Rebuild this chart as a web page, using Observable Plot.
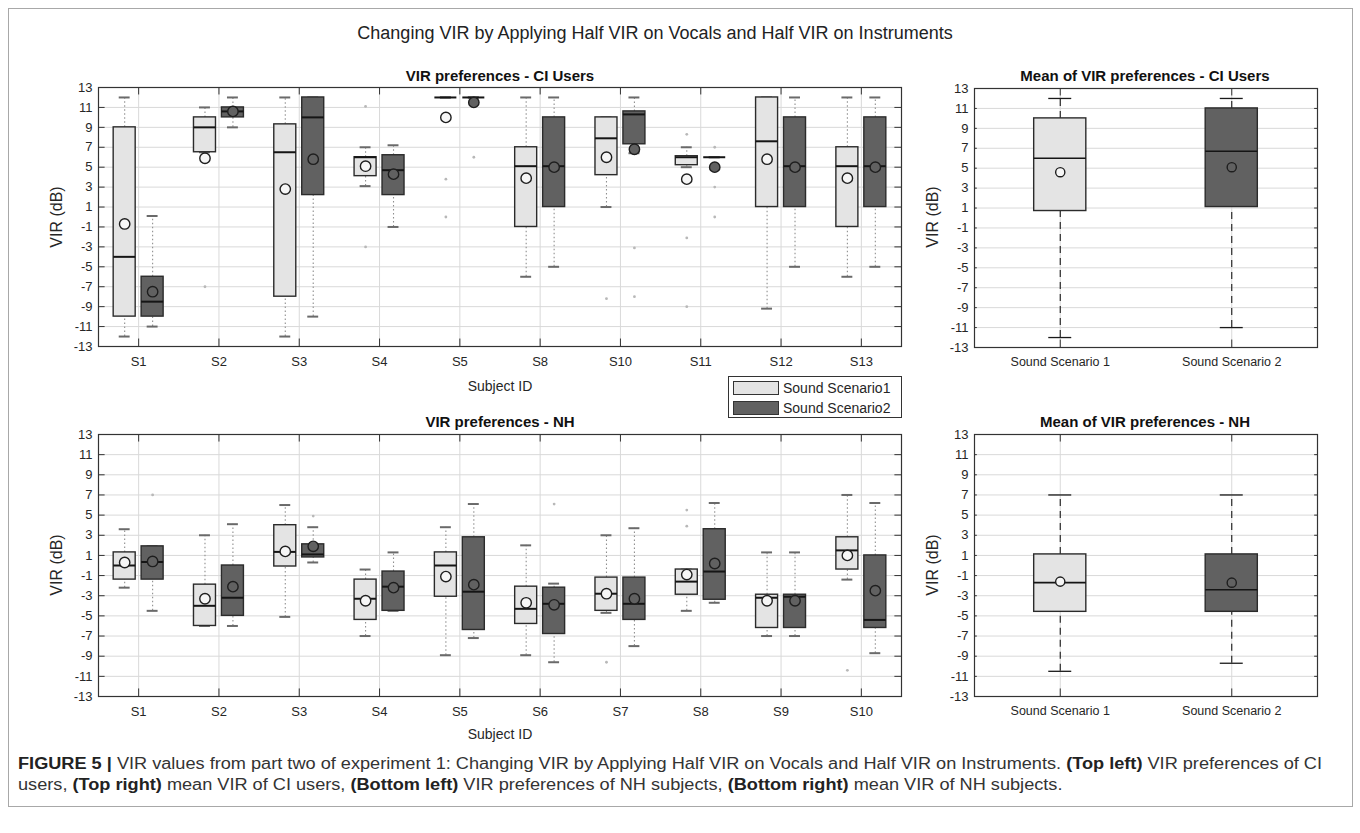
<!DOCTYPE html>
<html><head><meta charset="utf-8">
<script src="https://cdn.jsdelivr.net/npm/d3@7"></script>
<script src="https://cdn.jsdelivr.net/npm/@observablehq/plot@0.6"></script>
<style>
body{margin:0;background:#fff;}
#fig{position:relative;width:1360px;height:833px;font-family:"Liberation Sans",Arial,Helvetica,sans-serif;color:#262626;overflow:hidden;background:#fff;}
.abs{position:absolute;white-space:nowrap;}
.c{transform:translate(-50%,-50%);}
.pl{position:absolute;}
.ttl{font-weight:bold;font-size:15px;color:#111;}
.yl{font-size:16px;transform:translate(-50%,-50%) rotate(-90deg);}
.cap{font-family:"Liberation Sans",Arial,sans-serif;font-size:16px;color:#333;}
.cap b{color:#222;}
</style></head><body><div id="fig"></div>
<script>
// ---------- data ----------
const yTicks = [-13,-11,-9,-7,-5,-3,-1,1,3,5,7,9,11,13];

const ciSubjects = ["S1","S2","S3","S4","S5","S8","S10","S11","S12","S13"];
const ci1Low  = [-12, 6.5, -12, 3.1, 12, -6, 1, 5, -9.2, -6];
const ci1Q1   = [-10, 6.5, -8, 4.1, 12, -1, 4.2, 5.2, 1, -1];
const ci1Med  = [-4, 9, 6.5, 6, 12, 5.1, 7.9, 6, 7.6, 5.1];
const ci1Q3   = [9, 10, 9.3, 6, 12, 7, 10, 6.1, 12, 7];
const ci1High = [12, 11, 12, 7, 12, 12, 10, 7, 12, 12];
const ci1Mean = [-0.7, 5.9, 2.8, 5.1, 10, 3.9, 6, 3.8, 5.8, 3.9];
const ci2Low  = [-11, 9, -10, -1, 12, -5, 6.4, 6, -5, -5];
const ci2Q1   = [-10, 10, 2.2, 2.2, 12, 1, 7.3, 6, 1, 1];
const ci2Med  = [-8.5, 10.6, 10, 4.7, 12, 5.1, 10.3, 6, 5.1, 5.1];
const ci2Q3   = [-6, 11, 12, 6.2, 12, 10, 10.6, 6, 10, 10];
const ci2High = [0.1, 12, 12, 7.2, 12, 12, 12, 6, 12, 12];
const ci2Mean = [-7.5, 10.6, 5.8, 4.3, 11.5, 5, 6.8, 5, 5, 5];
const ciOutSubject  = ["S2","S4","S4","S5","S5","S5","S10","S10","S10","S11","S11","S11","S11","S11","S11"];
const ciOutScenario = [1, 1, 1, 1, 1, 2, 1, 2, 2, 1, 1, 1, 2, 2, 2];
const ciOutValue    = [-7, 11.1, -3, 3.8, 0, 6, -8.2, -3.1, -8, 8.3, -2.1, -9, 7, 3, 0];

const nhSubjects = ["S1","S2","S3","S4","S5","S6","S7","S8","S9","S10"];
const nh1Low  = [-2.2, -6, -5.1, -7, -8.9, -8.9, -4.7, -4.5, -7, -1.4];
const nh1Q1   = [-1.4, -6, -0.1, -5.4, -3.1, -5.8, -4.5, -2.9, -6.2, -0.4];
const nh1Med  = [0, -4, 1.35, -3.3, 0, -4.3, -2.8, -1.6, -3.2, 1.5];
const nh1Q3   = [1.3, -1.9, 4, -1.4, 1.3, -2.1, -1.2, -0.4, -2.9, 2.8];
const nh1High = [3.6, 3, 6, -0.4, 3.8, 2, 3, -0.4, 1.3, 7];
const nh1Mean = [0.3, -3.3, 1.4, -3.5, -1.1, -3.7, -2.8, -0.9, -3.5, 1];
const nh2Low  = [-4.5, -6, 0.3, -4.5, -7.2, -9.6, -8, -3.7, -7, -8.7];
const nh2Q1   = [-1.4, -5, 0.8, -4.5, -6.4, -6.8, -5.4, -3.4, -6.2, -6.2];
const nh2Med  = [0.35, -3.2, 1.1, -2.1, -2.6, -3.8, -3.8, -0.6, -3.1, -5.4];
const nh2Q3   = [1.9, 0, 2.1, -0.6, 2.8, -2.2, -1.2, 3.6, -2.9, 1];
const nh2High = [1.9, 4.1, 3.8, 1.3, 6.1, -1.8, 3.7, 6.2, 1.3, 6.2];
const nh2Mean = [0.4, -2.1, 1.9, -2.2, -1.9, -3.9, -3.3, 0.2, -3.5, -2.5];
const nhOutSubject  = ["S1","S3","S6","S7","S8","S8","S10"];
const nhOutScenario = [2, 2, 2, 1, 1, 1, 1];
const nhOutValue    = [7, 4.9, 6.1, -9.6, 5.5, 3.9, -10.4];

const scenarios = ["Sound Scenario 1","Sound Scenario 2"];
const ciMeanLow  = [-12, -11];
const ciMeanQ1   = [0.7, 1.1];
const ciMeanMed  = [6, 6.7];
const ciMeanQ3   = [10, 11];
const ciMeanHigh = [12, 12];
const ciMeanMean = [4.6, 5.1];
const nhMeanLow  = [-10.5, -9.7];
const nhMeanQ1   = [-4.6, -4.6];
const nhMeanMed  = [-1.7, -2.4];
const nhMeanQ3   = [1.1, 1.1];
const nhMeanHigh = [7, 7];
const nhMeanMean = [-1.6, -1.7];

const legendLabels = ["Sound Scenario1","Sound Scenario2"];

// ---------- styles ----------
const LIGHT = "#e4e4e4", DARK = "#616161";

function subjectRows(cats, sc, low, q1, med, q3, high, mean, off) {
  return cats.map((c, i) => ({pos: i + 1 + (sc === 1 ? -off : off), sc, low: low[i], q1: q1[i], med: med[i], q3: q3[i], high: high[i], mean: mean[i]}));
}
function meanRows(low, q1, med, q3, high, mean) {
  return [0, 1].map(i => ({pos: i + 1, sc: i + 1, low: low[i], q1: q1[i], med: med[i], q3: q3[i], high: high[i], mean: mean[i]}));
}
function outRows(cats, subj, scen, val, off) {
  return subj.map((s, k) => ({pos: cats.indexOf(s) + 1 + (scen[k] === 1 ? -off : off), v: val[k]}));
}

function panel({rows, outs, cats, boxHalf, capHalf, wDash, wColor, capColor, capW, medW, r, w, h, ml, mt, mr, mb, xfs}) {
  const n = cats.length;
  const xt = d3.range(1, n + 1);
  const tk = 0.11 * (n / 10);
  return Plot.plot({
    width: w, height: h, marginLeft: ml, marginTop: mt, marginRight: mr, marginBottom: mb,
    x: {domain: [0.5, n + 0.5]},
    y: {domain: [-13, 13]},
    style: {fontFamily: '"Liberation Sans", Arial, sans-serif', color: "#262626", background: "transparent", overflow: "visible"},
    marks: [
      Plot.gridY({ticks: yTicks, stroke: "#d9d9d9", strokeOpacity: 1}),
      Plot.gridX({ticks: xt, stroke: "#d9d9d9", strokeOpacity: 1}),
      Plot.ruleX(rows, {x: "pos", y1: "q3", y2: "high", stroke: wColor, strokeDasharray: wDash, strokeWidth: 1.1}),
      Plot.ruleX(rows, {x: "pos", y1: "low", y2: "q1", stroke: wColor, strokeDasharray: wDash, strokeWidth: 1.1}),
      Plot.ruleY(rows, {y: "high", x1: d => d.pos - capHalf, x2: d => d.pos + capHalf, stroke: capColor, strokeWidth: capW}),
      Plot.ruleY(rows, {y: "low", x1: d => d.pos - capHalf, x2: d => d.pos + capHalf, stroke: capColor, strokeWidth: capW}),
      Plot.rect(rows, {x1: d => d.pos - boxHalf, x2: d => d.pos + boxHalf, y1: "q1", y2: "q3", fill: d => d.sc === 1 ? LIGHT : DARK, stroke: "#2b2b2b", strokeWidth: 1.4}),
      Plot.ruleY(rows, {y: "med", x1: d => d.pos - boxHalf, x2: d => d.pos + boxHalf, stroke: "#151515", strokeWidth: medW}),
      Plot.dot(outs, {x: "pos", y: "v", r: 1.4, fill: "#b8b8b8"}),
      Plot.dot(rows, {x: "pos", y: "mean", r, fill: d => d.sc === 1 ? "#f6f6f6" : DARK, stroke: "#1e1e1e", strokeWidth: 1.4}),
      Plot.axisY({ticks: yTicks, tickFormat: d => String(d), tickSize: 0, tickPadding: 6, fontSize: 13, label: null}),
      Plot.axisX({ticks: xt, tickFormat: i => cats[i - 1], tickSize: 0, tickPadding: 10, fontSize: xfs, label: null}),
      Plot.ruleX(xt, {x: d => d, y1: -13, y2: -12.25, stroke: "#333"}),
      Plot.ruleX(xt, {x: d => d, y1: 13, y2: 12.25, stroke: "#333"}),
      Plot.ruleY(yTicks, {y: d => d, x1: 0.5, x2: 0.5 + tk * 0.75, stroke: "#333"}),
      Plot.ruleY(yTicks, {y: d => d, x1: n + 0.5 - tk * 0.75, x2: n + 0.5, stroke: "#333"}),
      Plot.frame({stroke: "#333", strokeWidth: 1.2})
    ]
  });
}

const fig = document.getElementById("fig");
function place(node, left, top) { node.classList.add("pl"); node.style.left = left + "px"; node.style.top = top + "px"; fig.appendChild(node); }
function txt(html, x, y, cls, extra) {
  const d = document.createElement("div");
  d.className = "abs " + cls; d.innerHTML = html;
  d.style.left = x + "px"; d.style.top = y + "px";
  if (extra) Object.assign(d.style, extra);
  fig.appendChild(d); return d;
}

// frame
const fr = document.createElement("div");
Object.assign(fr.style, {position: "absolute", left: "8px", top: "8px", width: "1343px", height: "797px", border: "1px solid #a8a8a8"});
fig.appendChild(fr);

const OFF = 0.174, BH = 0.137, CH = 0.068;
// top-left: CI
place(panel({
  rows: [...subjectRows(ciSubjects, 1, ci1Low, ci1Q1, ci1Med, ci1Q3, ci1High, ci1Mean, OFF), ...subjectRows(ciSubjects, 2, ci2Low, ci2Q1, ci2Med, ci2Q3, ci2High, ci2Mean, OFF)],
  outs: outRows(ciSubjects, ciOutSubject, ciOutScenario, ciOutValue, OFF),
  cats: ciSubjects, boxHalf: BH, capHalf: CH, wDash: "1.5,2.5", wColor: "#8f8f8f", capColor: "#6a6a6a", capW: 2, medW: 2, r: 5.2,
  w: 873, h: 299, ml: 58, mt: 10, mr: 12, mb: 30, xfs: 13
}), 40, 77);

// bottom-left: NH
place(panel({
  rows: [...subjectRows(nhSubjects, 1, nh1Low, nh1Q1, nh1Med, nh1Q3, nh1High, nh1Mean, OFF), ...subjectRows(nhSubjects, 2, nh2Low, nh2Q1, nh2Med, nh2Q3, nh2High, nh2Mean, OFF)],
  outs: outRows(nhSubjects, nhOutSubject, nhOutScenario, nhOutValue, OFF),
  cats: nhSubjects, boxHalf: BH, capHalf: CH, wDash: "1.5,2.5", wColor: "#8f8f8f", capColor: "#6a6a6a", capW: 2, medW: 2, r: 5.2,
  w: 873, h: 302, ml: 58, mt: 10, mr: 12, mb: 30, xfs: 13
}), 40, 424);

// top-right
place(panel({
  rows: meanRows(ciMeanLow, ciMeanQ1, ciMeanMed, ciMeanQ3, ciMeanHigh, ciMeanMean), outs: [],
  cats: scenarios, boxHalf: 0.152, capHalf: 0.067, wDash: "7,5", wColor: "#1a1a1a", capColor: "#1a1a1a", capW: 1.3, medW: 1.6, r: 4.6,
  w: 413, h: 299, ml: 58, mt: 10, mr: 12, mb: 30, xfs: 12.5
}), 916, 78);

// bottom-right
place(panel({
  rows: meanRows(nhMeanLow, nhMeanQ1, nhMeanMed, nhMeanQ3, nhMeanHigh, nhMeanMean), outs: [],
  cats: scenarios, boxHalf: 0.152, capHalf: 0.067, wDash: "7,5", wColor: "#1a1a1a", capColor: "#1a1a1a", capW: 1.3, medW: 1.6, r: 4.6,
  w: 413, h: 302, ml: 58, mt: 10, mr: 12, mb: 30, xfs: 12.5
}), 916, 424);

// texts
txt("Changing VIR by Applying Half VIR on Vocals and Half VIR on Instruments", 655, 33, "c", {fontSize: "18px", color: "#222"});
txt("VIR preferences - CI Users", 500, 75, "c ttl");
txt("Mean of VIR preferences - CI Users", 1145, 75, "c ttl");
txt("VIR preferences - NH", 500, 421, "c ttl");
txt("Mean of VIR preferences - NH", 1145, 421, "c ttl");
txt("Subject ID", 500, 386, "c", {fontSize: "14px"});
txt("Subject ID", 500, 734, "c", {fontSize: "14px"});
txt("VIR (dB)", 57, 217, "yl");
txt("VIR (dB)", 57, 565, "yl");
txt("VIR (dB)", 933, 217, "yl");
txt("VIR (dB)", 933, 565, "yl");

// legend
const lg = document.createElement("div");
Object.assign(lg.style, {position: "absolute", left: "728px", top: "376px", width: "172px", height: "40px", border: "1px solid #333", background: "#fff"});
legendLabels.forEach((lab, i) => {
  const row = document.createElement("div");
  Object.assign(row.style, {position: "absolute", left: "4px", top: (3 + i * 20) + "px", height: "16px", display: "flex", alignItems: "center", fontSize: "14px", whiteSpace: "nowrap"});
  const sw = document.createElement("span");
  Object.assign(sw.style, {display: "inline-block", width: "44px", height: "12px", background: i === 0 ? LIGHT : DARK, border: "1px solid #333", marginRight: "4px"});
  row.appendChild(sw);
  row.appendChild(document.createTextNode(lab));
  lg.appendChild(row);
});
fig.appendChild(lg);

// caption
const c1 = txt('<b>FIGURE 5 |</b> VIR values from part two of experiment 1: Changing VIR by Applying Half VIR on Vocals and Half VIR on Instruments. <b>(Top left)</b> VIR preferences of CI', 18, 755, "cap");
const c2 = txt('users, <b>(Top right)</b> mean VIR of CI users, <b>(Bottom left)</b> VIR preferences of NH subjects, <b>(Bottom right)</b> mean VIR of NH subjects.', 18, 776, "cap");
const sx = 1304 / c1.getBoundingClientRect().width;
[c1, c2].forEach(c => { c.style.transformOrigin = "0 0"; c.style.transform = `scaleX(${sx})`; });
</script>
</body></html>
